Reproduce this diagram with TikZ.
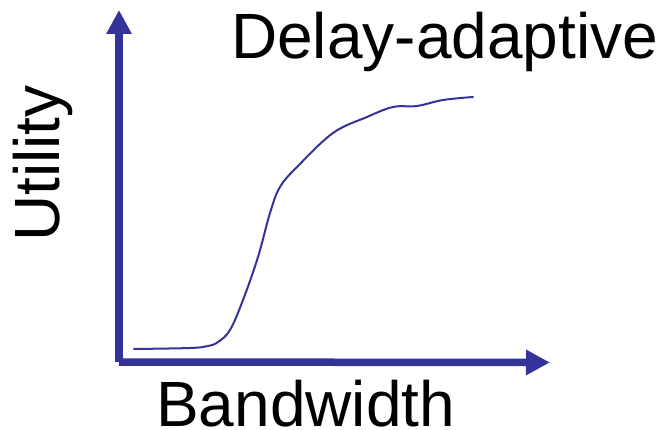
\documentclass[tikz,border=0pt]{standalone}
\usepackage{fontspec}
\setmainfont{Liberation Sans}
\usepackage{xcolor}
\usetikzlibrary{arrows.meta,positioning}
\definecolor{axisblue}{RGB}{51,51,153}

\begin{document}
\begin{tikzpicture}[
  x=1pt,y=1pt,
  axis/.style={draw=axisblue,line width=7.5pt,-{Triangle[length=24pt,width=24pt]}},
  curve/.style={draw=axisblue,line width=2pt,line cap=round},
  lbl/.style={inner sep=0pt,font=\fontsize{64}{70}\selectfont}
]
\useasboundingbox (0,0) rectangle (662,429);
% axes
\coordinate (origin) at (119,67);
\coordinate (ytip) at (119,419);
\coordinate (xtip) at (550,66.5);
\draw[axis] (origin) -- (ytip);
\draw[axis] (origin) -- (xtip);
% utility vs. bandwidth
\draw[curve] plot[smooth,tension=0.6] coordinates {
  (134,80) (190,81) (208,83) (218,87) (230,99) (243,129) (258,172)
  (270,216) (280,242) (297,262) (333,296) (367,312) (393,322)
  (417,323) (443,329) (473,332)};
% labels
\node[lbl,anchor=base west] (title) at (231,370) {Delay-adaptive};
\node[lbl,anchor=base west] (xlabel) at (156,2.5) {Bandwidth};
\node[lbl,anchor=base west,rotate=90] (ylabel) at (60,187) {Utility};
\end{tikzpicture}
\end{document}
